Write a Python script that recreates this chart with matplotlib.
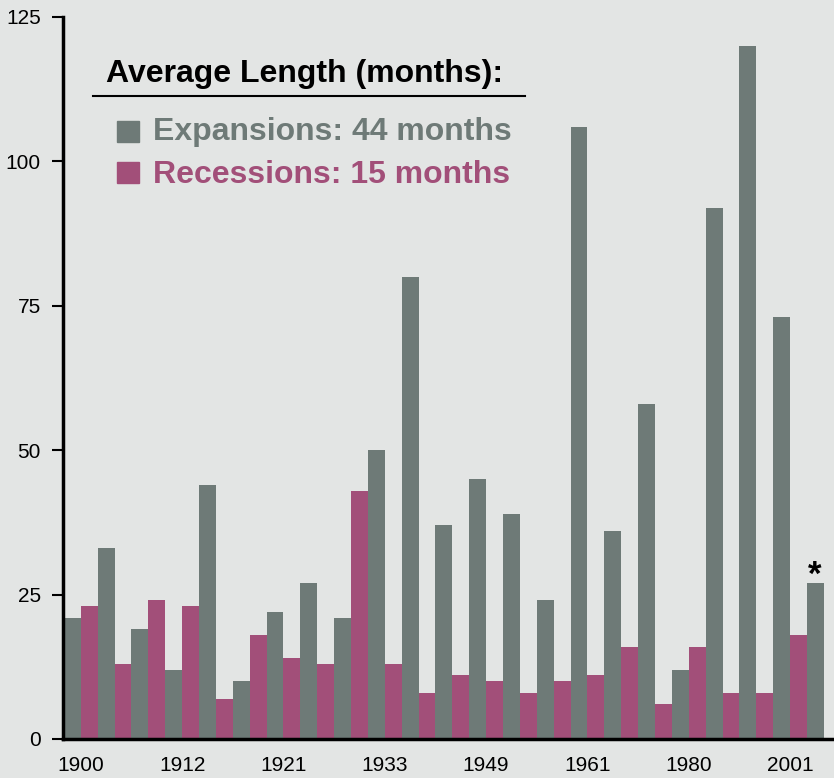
import matplotlib
matplotlib.use("Agg")
import matplotlib.pyplot as plt
from matplotlib.patches import Rectangle
from matplotlib.lines import Line2D

# months per phase, in date order; expansions and recessions alternate
expansions = [21, 33, 19, 12, 44, 10, 22, 27, 21, 50, 80, 37, 45, 39, 24, 106, 36, 58, 12, 92, 120, 73, 27]
recessions = [23, 13, 24, 23, 7, 18, 14, 13, 43, 13, 8, 11, 10, 8, 10, 11, 16, 6, 16, 8, 8, 18]
year_labels = ["1900", "1912", "1921", "1933", "1949", "1961", "1980", "2001"]
year_pos = [1, 7, 13, 19, 25, 31, 37, 43]
y_ticks = [0, 25, 50, 75, 100, 125]

bg = "#E3E5E4"
grey = "#6E7A77"
pink = "#A24F79"

plt.rcParams["font.family"] = ["Liberation Sans", "DejaVu Sans"]

W, H = 834, 778
fig = plt.figure(figsize=(W / 100, H / 100), dpi=100, facecolor=bg)
ax = fig.add_axes([63 / W, (H - 739) / H, (W - 63) / W, (739 - 17) / H])
ax.set_facecolor(bg)

exp_x = [2 * i for i in range(len(expansions))]
rec_x = [2 * i + 1 for i in range(len(recessions))]
ax.bar(exp_x, expansions, width=1.0, align="edge", color=grey, linewidth=0)
ax.bar(rec_x, recessions, width=1.0, align="edge", color=pink, linewidth=0)

# asterisk on the last (ongoing) expansion
ax.text(exp_x[-1] + 0.45, expansions[-1] + 1.4, "*", ha="center", va="center",
        fontsize=25, fontweight="bold")

ax.set_xlim(-0.05, 45.6)
ax.set_ylim(0, 125)
ax.set_yticks(y_ticks)
ax.set_xticks(year_pos)
ax.set_xticklabels(year_labels)
ax.tick_params(axis="y", length=8, width=1.5, pad=8, labelsize=15)
ax.tick_params(axis="x", length=0, pad=12, labelsize=15)
for s in ["top", "right"]:
    ax.spines[s].set_visible(False)
for s in ["left", "bottom"]:
    ax.spines[s].set_linewidth(2.5)

# legend block
def fx(px):
    return px / W

def fy(py):
    return 1 - py / H

fig.text(fx(106), fy(82), "Average Length (months):", fontsize=23, fontweight="bold",
         ha="left", va="baseline")
fig.add_artist(Line2D([fx(93), fx(525)], [fy(96), fy(96)], color="black", lw=1.5))
fig.add_artist(Rectangle((fx(117), fy(142)), 22 / W, 21 / H, color=grey, transform=fig.transFigure))
fig.add_artist(Rectangle((fx(117), fy(183)), 22 / W, 21 / H, color=pink, transform=fig.transFigure))
fig.text(fx(153), fy(140), "Expansions: 44 months", fontsize=23, fontweight="bold",
         color=grey, ha="left", va="baseline")
fig.text(fx(153), fy(183), "Recessions: 15 months", fontsize=23, fontweight="bold",
         color=pink, ha="left", va="baseline")

fig.savefig("out.png", dpi=100, facecolor=bg)
